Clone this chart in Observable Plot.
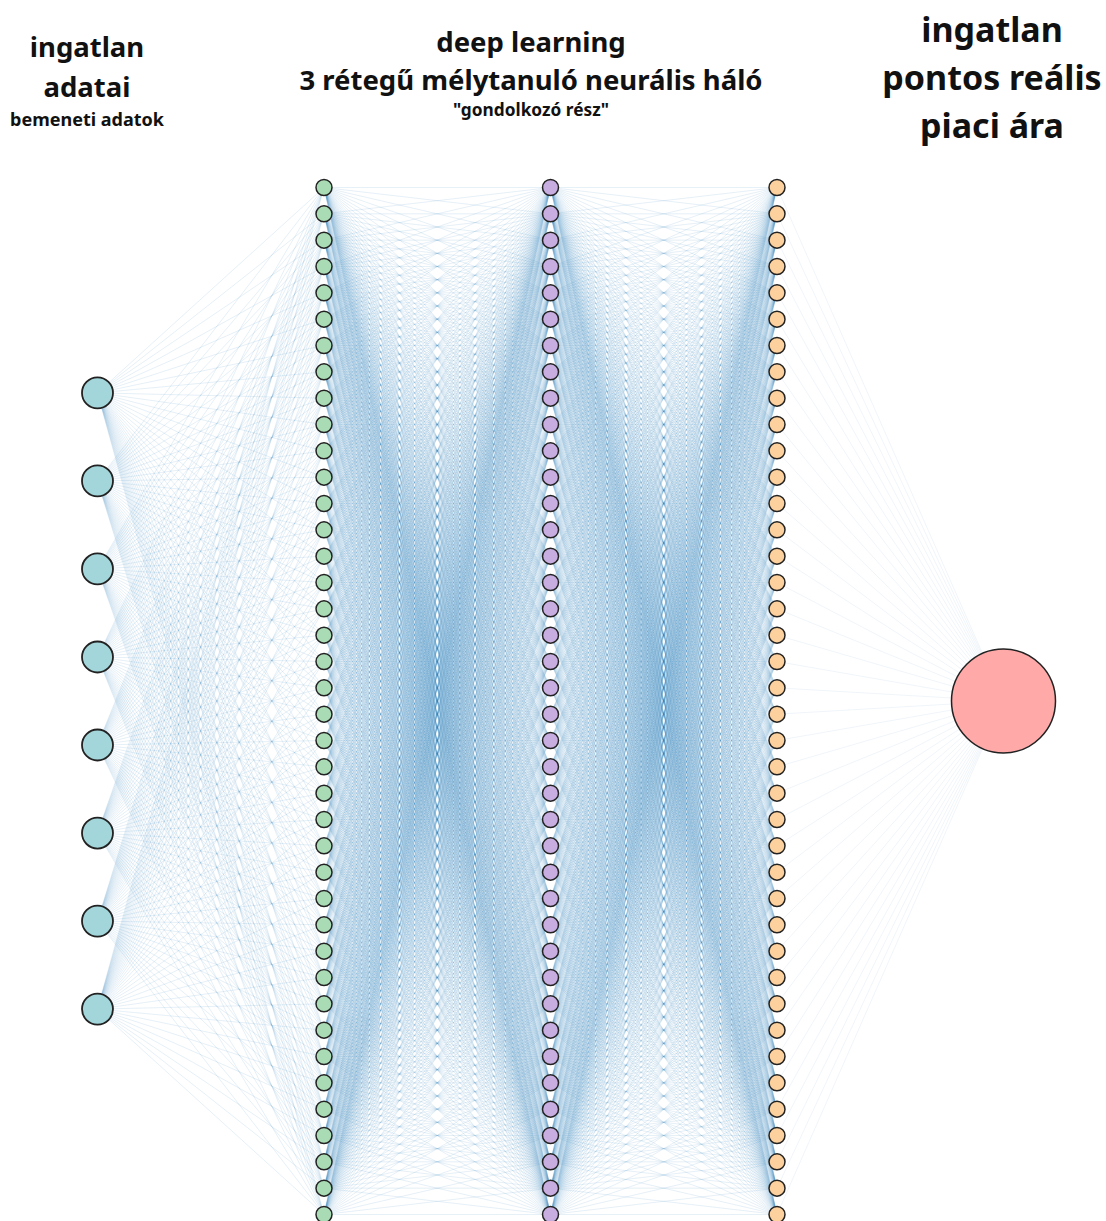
<!DOCTYPE html>
<html>
<head>
<meta charset="utf-8">
<script src="https://cdn.jsdelivr.net/npm/d3@7"></script>
<script src="https://cdn.jsdelivr.net/npm/@observablehq/plot@0.6"></script>
<style>
  html, body { margin: 0; padding: 0; background: #fff; }
  body { width: 1106px; font-family: "Noto Sans", sans-serif; font-weight: 700; color: #111; }
  #header { position: relative; height: 160px; width: 1106px; }
  #header div { position: absolute; white-space: nowrap; transform: translateX(-50%); line-height: 1; }
</style>
</head>
<body>
<div id="header"></div>
<div id="chart"></div>
<script>
// ---- data ----
const layerNames = ["bemenet", "rejtett 1", "rejtett 2", "rejtett 3", "kimenet"];
const layerSizes = [8, 40, 40, 40, 1];
const layerSpread = [0.6, 1, 1, 1, 0];
const layerFill = ["#a2d6da", "#a9dcb4", "#c8ade0", "#fdd19d", "#ffa9a9"];
const layerRadius = [15.5, 8, 8, 8, 52];

const titleLeft = ["ingatlan", "adatai"];
const subLeft = "bemeneti adatok";
const titleMid = ["deep learning", "3 rétegű mélytanuló neurális háló"];
const subMid = "\"gondolkozó rész\"";
const titleRight = ["ingatlan", "pontos reális", "piaci ára"];

// ---- header (titles above the svg) ----
const header = document.getElementById("header");
function addLine(text, cx, baseline, size) {
  const d = document.createElement("div");
  d.textContent = text;
  d.style.left = cx + "px";
  d.style.top = (baseline - 0.888 * size) + "px";
  d.style.fontSize = size + "px";
  header.appendChild(d);
}
addLine(titleLeft[0], 87, 57, 27.5);
addLine(titleLeft[1], 87, 97, 27.5);
addLine(subLeft, 87, 126, 18);
addLine(titleMid[0], 531, 52, 27.5);
addLine(titleMid[1], 531, 90, 27.5);
addLine(subMid, 531, 116, 17.3);
addLine(titleRight[0], 992, 41.7, 34);
addLine(titleRight[1], 992, 90, 34);
addLine(titleRight[2], 992, 138, 34);

// ---- build nodes & edges ----
const nodes = [];
layerSizes.forEach((n, l) => {
  for (let i = 0; i < n; i++) {
    const y = n > 1 ? layerSpread[l] * (1 - 2 * i / (n - 1)) : 0;
    nodes.push({layer: l, index: i, x: l, y, fill: layerFill[l], r: layerRadius[l]});
  }
});
const byLayer = layerSizes.map((_, l) => nodes.filter(d => d.layer === l));
const edges = [];
for (let l = 0; l < layerSizes.length - 1; l++) {
  for (const a of byLayer[l]) for (const b of byLayer[l + 1]) {
    edges.push({x1: a.x, y1: a.y, x2: b.x, y2: b.y, last: l === layerSizes.length - 2});
  }
}

const plot = Plot.plot({
  width: 1106,
  height: 1061,
  marginTop: 27,
  marginBottom: 7,
  marginLeft: 97,
  marginRight: 103,
  x: {domain: [0, 4], axis: null},
  y: {domain: [-1, 1], axis: null},
  r: {type: "identity"},
  marks: [
    Plot.link(edges.filter(d => !d.last), {x1: "x1", y1: "y1", x2: "x2", y2: "y2", stroke: "#3a84c0", strokeOpacity: 0.18, strokeWidth: 0.7}),
    Plot.link(edges.filter(d => d.last), {x1: "x1", y1: "y1", x2: "x2", y2: "y2", stroke: "#3a84c0", strokeOpacity: 0.08, strokeWidth: 1}),
    Plot.dot(nodes, {x: "x", y: "y", r: "r", fill: "fill", stroke: "#222", strokeWidth: d => d.layer === 0 ? 1.8 : 1.5})
  ]
});
document.getElementById("chart").appendChild(plot);
</script>
</body>
</html>
